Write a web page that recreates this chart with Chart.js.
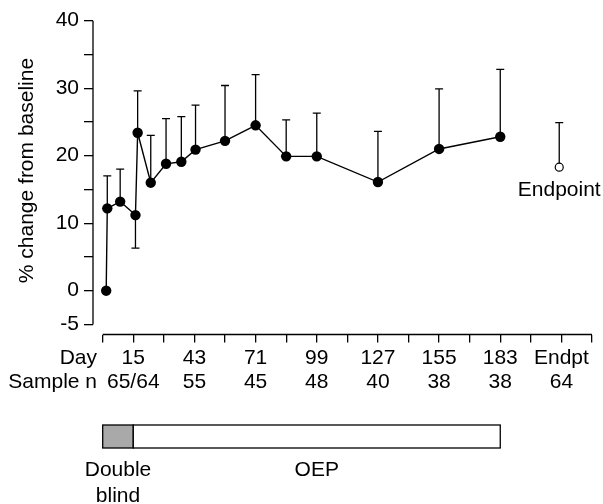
<!DOCTYPE html>
<html>
<head>
<meta charset="utf-8">
<script src="https://cdn.jsdelivr.net/npm/chart.js@4.4.1/dist/chart.umd.min.js"></script>
<style>
  html, body { margin: 0; padding: 0; background: #fff; }
</style>
</head>
<body>
<canvas id="chart" width="603" height="504"></canvas>
<script>
// visit days and mean % change from baseline
var days = [2.6, 3.1, 9, 16, 17, 23, 30, 37, 43.5, 57, 71, 85, 99, 127, 155, 183];
var meanChange = [0, 12.2, 13.2, 11.2, 23.4, 16.0, 18.8, 19.1, 20.9, 22.2, 24.5, 19.9, 19.9, 16.1, 21.0, 22.8];
var errUp = [0, 4.8, 4.8, 0, 6.2, 7.0, 6.7, 6.7, 6.6, 8.2, 7.5, 5.4, 6.4, 7.5, 8.9, 10.0];
var errDown = [0, 0, 0, 4.9, 0, 0, 0, 0, 0, 0, 0, 0, 0, 0, 0, 0];

// endpoint (open circle)
var endpointDay = [210];
var endpointValue = [18.3];
var endpointErrUp = [6.6];

// x axis labels
var labelDays = [15, 43, 71, 99, 127, 155, 183, 211];
var dayLabels = ['15', '43', '71', '99', '127', '155', '183', 'Endpt'];
var sampleN = ['65/64', '55', '45', '48', '40', '38', '38', '64'];
var xTickDays = [1, 15, 29, 43, 57, 71, 85, 99, 113, 127, 141, 155, 169, 183, 197, 211, 225];

// y axis
var yTicks = [-5, 0, 5, 10, 15, 20, 25, 30, 35, 40];
var yLabelled = [-5, 0, 10, 20, 30, 40];

// study phases
var phaseNames = [['Double', 'blind'], ['OEP']];
var phaseStart = [1, 15];
var phaseEnd = [15, 183];
var phaseColors = ['#a9a9a9', '#ffffff'];

var FONT = "'Liberation Sans', Arial, Helvetica, sans-serif";
var FS = 21;
var LH = 24.5;
Chart.defaults.font.family = FONT;
Chart.defaults.color = '#000';

var extras = {
    id: 'extras',
    beforeDatasetsDraw: function (chart) {
        var c = chart.ctx, x = chart.scales.x, y = chart.scales.y, a = chart.chartArea;
        c.save();
        c.strokeStyle = '#000';
        c.lineWidth = 1.3;
        // axis lines (detached, like the original)
        c.beginPath();
        c.moveTo(a.left, y.getPixelForValue(40));
        c.lineTo(a.left, y.getPixelForValue(-5));
        c.moveTo(x.getPixelForValue(1), a.bottom);
        c.lineTo(x.getPixelForValue(225), a.bottom);
        c.stroke();

        // error bars
        function bar(d, v, e) {
            if (!e) return;
            var px = x.getPixelForValue(d);
            var p0 = y.getPixelForValue(v), p1 = y.getPixelForValue(v + e);
            c.beginPath();
            c.moveTo(px, p0);
            c.lineTo(px, p1);
            c.moveTo(px - 4, p1);
            c.lineTo(px + 4, p1);
            c.stroke();
        }
        days.forEach(function (d, i) {
            bar(d, meanChange[i], errUp[i]);
            bar(d, meanChange[i], -errDown[i]);
        });
        endpointDay.forEach(function (d, i) {
            bar(d, endpointValue[i], endpointErrUp[i]);
        });
        c.restore();
    },
    afterDraw: function (chart) {
        var c = chart.ctx, x = chart.scales.x, y = chart.scales.y, a = chart.chartArea;
        c.save();
        c.fillStyle = '#000';
        c.font = FS + 'px ' + FONT;
        c.textBaseline = 'middle';

        // y title
        c.save();
        c.translate(27, y.getPixelForValue(17.8));
        c.rotate(-Math.PI / 2);
        c.textAlign = 'center';
        c.fillText('% change from baseline', 0, 0);
        c.restore();

        // row titles
        var row1 = a.bottom + 8 + 3 + LH / 2;
        c.textAlign = 'right';
        c.fillText('Day', a.left + 4, row1);
        c.fillText('Sample n', a.left + 4, row1 + LH);

        // endpoint label
        c.textAlign = 'center';
        endpointDay.forEach(function (d, i) {
            c.fillText('Endpoint', x.getPixelForValue(d), y.getPixelForValue(endpointValue[i]) + 23);
        });

        // phase bar
        var top = a.bottom + 90.5, h = 23;
        c.strokeStyle = '#000';
        c.lineWidth = 1.3;
        phaseStart.forEach(function (s, i) {
            var x0 = x.getPixelForValue(s), x1 = x.getPixelForValue(phaseEnd[i]);
            c.fillStyle = phaseColors[i];
            c.fillRect(x0, top, x1 - x0, h);
            c.strokeRect(x0, top, x1 - x0, h);
            c.fillStyle = '#000';
            phaseNames[i].forEach(function (t, k) {
                c.fillText(t, (x0 + x1) / 2, top + h + 22 + k * 26);
            });
        });
        c.restore();
    }
};

new Chart(document.getElementById('chart'), {
    type: 'scatter',
    data: {
        datasets: [{
            data: days.map(function (d, i) { return {x: d, y: meanChange[i]}; }),
            showLine: true,
            borderColor: '#000',
            borderWidth: 1.4,
            pointRadius: 5.2,
            pointBackgroundColor: '#000',
            pointBorderWidth: 0,
            tension: 0
        }, {
            data: endpointDay.map(function (d, i) { return {x: d, y: endpointValue[i]}; }),
            showLine: false,
            pointRadius: 4,
            pointBackgroundColor: '#fff',
            pointBorderColor: '#000',
            pointBorderWidth: 1.2
        }]
    },
    options: {
        responsive: false,
        animation: false,
        layout: { padding: { top: 20.7, right: 11, left: 0, bottom: 0 } },
        plugins: { legend: { display: false }, tooltip: { enabled: false } },
        scales: {
            x: {
                type: 'linear',
                min: -3.44,
                max: 225,
                afterBuildTicks: function (s) { s.ticks = xTickDays.map(function (v) { return {value: v}; }); },
                afterFit: function (s) { s.height = 169.5; },
                border: { display: false },
                grid: { drawOnChartArea: false, drawTicks: true, tickLength: 8, color: '#000', lineWidth: 1.3 },
                ticks: {
                    autoSkip: false,
                    maxRotation: 0,
                    padding: 3,
                    font: { size: FS, lineHeight: LH / FS },
                    callback: function (v) {
                        var i = labelDays.indexOf(v);
                        return i < 0 ? '' : [dayLabels[i], sampleN[i]];
                    }
                }
            },
            y: {
                min: -6.49,
                max: 40,
                afterBuildTicks: function (s) { s.ticks = yTicks.map(function (v) { return {value: v}; }); },
                afterFit: function (s) { s.width = 93; },
                border: { display: false },
                grid: { drawOnChartArea: false, drawTicks: true, tickLength: 9, color: '#000', lineWidth: 1.3 },
                ticks: {
                    padding: 5,
                    font: { size: FS },
                    callback: function (v) { return yLabelled.indexOf(v) < 0 ? '' : String(v); }
                }
            }
        }
    },
    plugins: [extras]
});
</script>
</body>
</html>
